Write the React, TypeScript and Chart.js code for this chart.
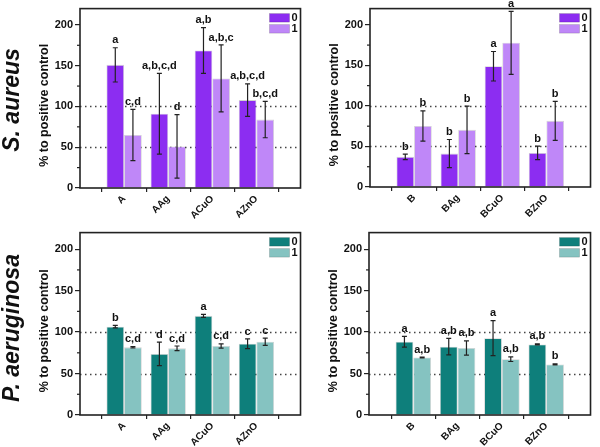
import { useEffect, useRef } from "react";
import { Chart, registerables } from "chart.js";

Chart.register(...registerables);

const FONT = "'Liberation Sans', Arial, Helvetica, sans-serif";

// Groups shown along the x axis of each column
const categoriesA = ["A", "AAg", "ACuO", "AZnO"];
const categoriesB = ["B", "BAg", "BCuO", "BZnO"];
const seriesNames = ["0", "1"];
const yTickValues = [0, 50, 100, 150, 200];
const referenceLines = [50, 100];
const yTitle = "% to positive control";

// S. aureus, A samples
const saA0 = [151, 91, 168.6, 107.8];
const saA0Err = [21, 49.5, 28, 20];
const saA0Letters = ["a", "a,b,c,d", "a,b", "a,b,c,d"];
const saA1 = [65, 51, 134.4, 83.9];
const saA1Err = [31.5, 39, 41, 22.3];
const saA1Letters = ["c,d", "d", "a,b,c", "b,c,d"];

// S. aureus, B samples
const saB0 = [37.2, 41.2, 148.9, 42];
const saB0Err = [3.4, 17.4, 18.2, 8.3];
const saB0Letters = ["b", "b", "a", "b"];
const saB1 = [75.2, 70.5, 177.8, 81.6];
const saB1Err = [18.6, 29.3, 38.8, 24];
const saB1Letters = ["b", "b", "a", "b"];

// P. aeruginosa, A samples
const paA0 = [106.5, 73.7, 119.6, 85.9];
const paA0Err = [1.5, 14.2, 1.8, 5.8];
const paA0Letters = ["b", "d", "a", "c"];
const paA1 = [81.6, 80.4, 83.2, 88.3];
const paA1Err = [0.8, 2.8, 2.5, 4.4];
const paA1Letters = ["c,d", "c,d", "c,d", "c"];

// P. aeruginosa, B samples
const paB0 = [88.3, 82.4, 92.7, 85.1];
const paB0Err = [6.5, 9.9, 21.2, 0.6];
const paB0Letters = ["a", "a,b", "a", "a,b"];
const paB1 = [69.3, 80.8, 67.3, 61];
const paB1Err = [0.5, 8.7, 2.8, 0.7];
const paB1Letters = ["a,b", "a,b", "a,b", "b"];

const purple = ["#8C2DF1", "#BF87F8"];
const teal = ["#0E7F7B", "#85C3C1"];

type Panel = {
  left: number;
  top: number;
  width: number;
  height: number;
  padTop: number;
  xHeight: number;
  categories: string[];
  values: number[][];
  errors: number[][];
  letters: string[][];
  colors: string[];
};

const panels: Panel[] = [
  {
    left: 0, top: 0, width: 310, height: 224, padTop: 3, xHeight: 36,
    categories: categoriesA,
    values: [saA0, saA1], errors: [saA0Err, saA1Err], letters: [saA0Letters, saA1Letters],
    colors: purple,
  },
  {
    left: 290, top: 0, width: 310, height: 224, padTop: 2, xHeight: 37,
    categories: categoriesB,
    values: [saB0, saB1], errors: [saB0Err, saB1Err], letters: [saB0Letters, saB1Letters],
    colors: purple,
  },
  {
    left: 0, top: 224, width: 310, height: 223, padTop: 6, xHeight: 32,
    categories: categoriesA,
    values: [paA0, paA1], errors: [paA0Err, paA1Err], letters: [paA0Letters, paA1Letters],
    colors: teal,
  },
  {
    left: 289, top: 224, width: 311, height: 223, padTop: 5, xHeight: 32,
    categories: categoriesB,
    values: [paB0, paB1], errors: [paB0Err, paB1Err], letters: [paB0Letters, paB1Letters],
    colors: teal,
  },
];

function panelPlugin(p: Panel) {
  return {
    id: "panelDecor",
    beforeDatasetsDraw(chart: any) {
      const { ctx, chartArea } = chart;
      const y = chart.scales.y;
      ctx.save();
      ctx.strokeStyle = "#444";
      ctx.lineWidth = 1.3;
      ctx.setLineDash([1.5, 3.5]);
      for (const v of referenceLines) {
        const py = Math.round(y.getPixelForValue(v)) + 0.5;
        ctx.beginPath();
        ctx.moveTo(chartArea.left, py);
        ctx.lineTo(chartArea.right, py);
        ctx.stroke();
      }
      ctx.restore();
    },
    afterDatasetsDraw(chart: any) {
      const { ctx } = chart;
      const y = chart.scales.y;
      ctx.save();
      p.values.forEach((series, di) => {
        const meta = chart.getDatasetMeta(di);
        series.forEach((v, j) => {
          const bar = meta.data[j + 1];
          if (!bar) return;
          const e = p.errors[di][j];
          const x = bar.x;
          const yT = y.getPixelForValue(v + e);
          const yB = y.getPixelForValue(v - e);
          ctx.strokeStyle = "#222";
          ctx.lineWidth = 1.2;
          ctx.beginPath();
          ctx.moveTo(x, yT);
          ctx.lineTo(x, yB);
          ctx.moveTo(x - 2.5, yT);
          ctx.lineTo(x + 2.5, yT);
          ctx.moveTo(x - 2.5, yB);
          ctx.lineTo(x + 2.5, yB);
          ctx.stroke();
          ctx.fillStyle = "#111";
          ctx.font = `bold 11px ${FONT}`;
          ctx.textAlign = "center";
          ctx.textBaseline = "bottom";
          ctx.fillText(p.letters[di][j], x, yT - 2);
        });
      });
      ctx.restore();
    },
    afterDraw(chart: any) {
      const { ctx, chartArea } = chart;
      const y = chart.scales.y;
      ctx.save();
      // minor ticks on the value axis
      ctx.strokeStyle = "#222";
      ctx.lineWidth = 1.2;
      for (let v = 25; v < 220; v += 50) {
        const py = y.getPixelForValue(v);
        ctx.beginPath();
        ctx.moveTo(chartArea.left - 3, py);
        ctx.lineTo(chartArea.left, py);
        ctx.stroke();
      }
      // frame
      ctx.lineWidth = 1.6;
      ctx.strokeRect(chartArea.left, chartArea.top, chartArea.right - chartArea.left, chartArea.bottom - chartArea.top);
      // value-axis title, set a little below the plot's middle
      ctx.save();
      ctx.translate(chartArea.left - 35, (chartArea.top + chartArea.bottom) / 2 + 7);
      ctx.rotate(-Math.PI / 2);
      ctx.fillStyle = "#111";
      ctx.font = `bold 12.5px ${FONT}`;
      ctx.textAlign = "center";
      ctx.textBaseline = "middle";
      ctx.fillText(yTitle, 0, 0);
      ctx.restore();
      // legend
      seriesNames.forEach((name, i) => {
        const sy = chartArea.top + 5 + i * 11;
        ctx.fillStyle = p.colors[i];
        ctx.fillRect(chartArea.right - 31, sy, 20, 8.5);
        ctx.strokeStyle = "rgba(0,0,0,0.25)";
        ctx.lineWidth = 0.6;
        ctx.strokeRect(chartArea.right - 31, sy, 20, 8.5);
        ctx.fillStyle = "#111";
        ctx.font = `bold 11px ${FONT}`;
        ctx.textAlign = "left";
        ctx.textBaseline = "middle";
        ctx.fillText(name, chartArea.right - 9, sy + 4.5);
      });
      ctx.restore();
    },
  };
}

function ChartPanel({ p }: { p: Panel }) {
  const ref = useRef<HTMLCanvasElement>(null);
  useEffect(() => {
    if (!ref.current) return;
    const labels = ["", ...p.categories, ""];
    const chart = new Chart(ref.current, {
      type: "bar",
      data: {
        labels,
        datasets: p.values.map((series, i) => ({
          label: seriesNames[i],
          data: [null, ...series, null],
          backgroundColor: p.colors[i],
          borderColor: "rgba(0,0,0,0.18)",
          borderWidth: 0.8,
          categoryPercentage: 0.8,
          barPercentage: 1,
        })),
      },
      options: {
        responsive: false,
        animation: false,
        events: [],
        layout: { padding: { top: p.padTop, right: 3, left: 0, bottom: 0 } },
        plugins: { legend: { display: false }, tooltip: { enabled: false } },
        scales: {
          x: {
            type: "category",
            offset: false,
            border: { display: false },
            grid: {
              drawOnChartArea: false,
              drawTicks: true,
              tickLength: 4,
              tickColor: "#222",
              lineWidth: 1.2,
            },
            ticks: {
              autoSkip: false,
              minRotation: 45,
              maxRotation: 45,
              padding: 1,
              color: "#111",
              font: { family: FONT, size: 10, weight: "bold" },
            },
            afterFit: (s: any) => {
              s.height = p.xHeight;
            },
          },
          y: {
            min: 0,
            max: 220,
            border: { display: false },
            grid: {
              drawOnChartArea: false,
              drawTicks: true,
              tickLength: 5,
              lineWidth: 1.2,
              tickColor: (c: any) => (c.tick && yTickValues.includes(c.tick.value) ? "#222" : "transparent"),
            },
            ticks: {
              stepSize: 50,
              padding: 2,
              color: "#111",
              font: { family: FONT, size: 11, weight: "bold" },
              callback: (v: any) => (yTickValues.includes(Number(v)) ? String(v) : ""),
            },
            afterFit: (s: any) => {
              s.width = 80;
            },
          },
        },
      } as any,
      plugins: [panelPlugin(p)],
    });
    return () => chart.destroy();
  }, [p]);
  return (
    <canvas
      ref={ref}
      width={p.width}
      height={p.height}
      style={{ position: "absolute", left: p.left, top: p.top, width: p.width, height: p.height }}
    />
  );
}

const rowLabelStyle = (top: number): any => ({
  position: "absolute",
  left: 11,
  top,
  transform: "translate(-50%, -50%) rotate(-90deg)",
  whiteSpace: "nowrap",
  font: `italic bold 23px ${FONT}`,
  color: "#111",
  lineHeight: 1,
});

export default function App() {
  return (
    <div style={{ position: "absolute", left: 0, top: 0, width: 600, height: 447, background: "#fff" }}>
      {panels.map((p, i) => (
        <ChartPanel key={i} p={p} />
      ))}
      <div style={rowLabelStyle(100)}>S. aureus</div>
      <div style={rowLabelStyle(328)}>P. aeruginosa</div>
    </div>
  );
}
